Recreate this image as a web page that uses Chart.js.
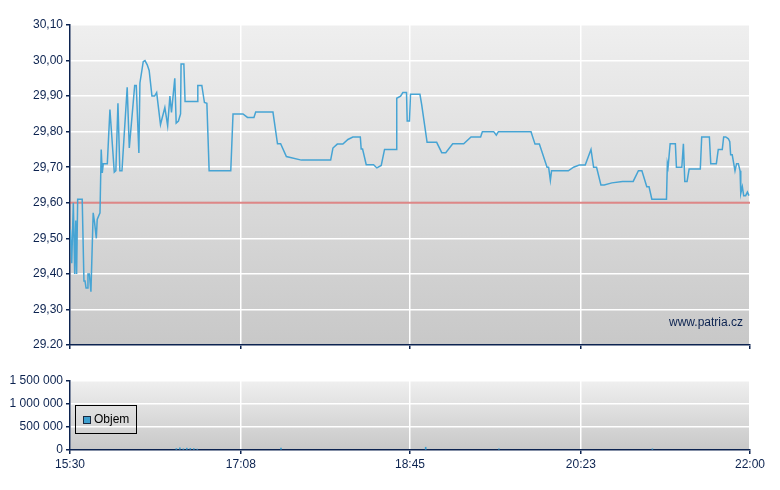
<!DOCTYPE html>
<html>
<head>
<meta charset="utf-8">
<script src="https://cdn.jsdelivr.net/npm/chart.js@4.4.0/dist/chart.umd.min.js"></script>
<style>
  html, body { margin: 0; padding: 0; background: #ffffff; }
  #wrap { position: relative; width: 780px; height: 490px; }
  #c1 { position: absolute; left: 0; top: 0; }
  #c2 { position: absolute; left: 0; top: 362px; }
</style>
</head>
<body>
<div id="wrap">
  <canvas id="c1" width="780" height="362"></canvas>
  <canvas id="c2" width="780" height="128"></canvas>
</div>
<script>
// ---- Data (minutes after 15:30) ----
const timeTickValues = [0, 98, 195, 293, 390];
const timeTickLabels = ['15:30', '17:08', '18:45', '20:23', '22:00'];

const priceTickValues = [29.2, 29.3, 29.4, 29.5, 29.6, 29.7, 29.8, 29.9, 30.0, 30.1];
const priceTickLabels = ['29.20', '29,30', '29,40', '29,50', '29,60', '29,70', '29,80', '29,90', '30,00', '30,10'];

const volumeTickValues = [0, 500000, 1000000, 1500000];
const volumeTickLabels = ['0', '500 000', '1 000 000', '1 500 000'];

const previousClose = 29.60;

const priceTimes = [
  0.2, 1.0, 1.9, 2.7, 3.3, 3.8, 4.4, 7.0, 8.0, 8.6, 9.2, 9.9, 10.3, 11.1, 12.0,
  13.3, 14.1, 15.1, 15.6, 17.2, 17.9, 18.5, 19.1, 21.4, 22.9, 25.4, 26.3, 27.5, 28.6, 29.8,
  32.8, 34.0, 37.1, 38.0, 39.5, 40.1, 42.0, 43.0, 44.3, 45.4, 47.0, 48.5, 49.7, 51.9, 54.4,
  56.0, 57.3, 58.2, 60.1, 60.9, 62.2, 63.4, 63.7, 65.3, 66.0, 72.9, 73.3, 75.6, 77.1, 78.5,
  79.8, 92.2, 93.5, 99.2, 101.8, 105.5, 106.5, 116.4, 119.0, 120.8, 124.1, 132.7, 149.5, 150.8, 153.3,
  156.5, 159.4, 162.2, 166.5, 167.0, 167.8, 169.9, 174.1, 176.0, 178.5, 180.4, 187.1, 187.4, 189.6, 190.9,
  193.0, 193.4, 194.7, 195.3, 200.7, 201.7, 204.8, 210.3, 213.2, 215.5, 219.5, 225.8, 230.0, 235.5, 236.5,
  243.0, 244.5, 245.7, 264.4, 266.7, 269.2, 273.6, 274.5, 275.5, 276.2, 285.8, 288.8, 292.1, 295.5, 298.8,
  300.3, 302.0, 304.5, 306.4, 310.8, 316.9, 323.0, 326.0, 328.0, 330.8, 332.1, 333.7, 342.1, 342.6, 343.0,
  344.2, 347.2, 347.8, 350.9, 351.8, 352.6, 353.9, 355.1, 361.5, 362.3, 366.7, 367.5, 370.7, 371.8, 374.1,
  374.9, 376.1, 377.6, 378.4, 378.9, 379.8, 381.4, 382.3, 383.3, 384.3, 384.7, 385.6, 386.4, 387.5, 388.5,
  389.4
];
const priceValues = [
  29.525, 29.43, 29.60, 29.40, 29.55, 29.40, 29.61, 29.61, 29.38, 29.38, 29.36, 29.36, 29.40, 29.40, 29.35,
  29.572, 29.544, 29.50, 29.553, 29.572, 29.75, 29.684, 29.71, 29.71, 29.862, 29.686, 29.69, 29.88, 29.69, 29.69,
  29.925, 29.754, 29.93, 29.93, 29.74, 29.937, 29.997, 30.00, 29.988, 29.972, 29.90, 29.90, 29.91, 29.82, 29.868,
  29.817, 29.90, 29.854, 29.95, 29.824, 29.83, 29.85, 29.99, 29.99, 29.885, 29.885, 29.93, 29.93, 29.882, 29.88,
  29.69, 29.69, 29.85, 29.85, 29.84, 29.84, 29.855, 29.855, 29.766, 29.766, 29.73, 29.72, 29.72, 29.754, 29.765,
  29.765, 29.778, 29.785, 29.785, 29.751, 29.751, 29.707, 29.707, 29.698, 29.705, 29.75, 29.75, 29.894, 29.90, 29.91,
  29.91, 29.83, 29.83, 29.905, 29.905, 29.876, 29.77, 29.77, 29.741, 29.741, 29.766, 29.766, 29.785, 29.785, 29.80,
  29.80, 29.79, 29.80, 29.80, 29.765, 29.765, 29.70, 29.70, 29.663, 29.69, 29.69, 29.70, 29.706, 29.706, 29.75,
  29.70, 29.70, 29.65, 29.65, 29.656, 29.66, 29.66, 29.69, 29.69, 29.645, 29.645, 29.61, 29.61, 29.71, 29.70,
  29.766, 29.766, 29.70, 29.70, 29.766, 29.66, 29.66, 29.695, 29.695, 29.785, 29.785, 29.71, 29.71, 29.75, 29.75,
  29.785, 29.785, 29.78, 29.772, 29.735, 29.735, 29.69, 29.71, 29.71, 29.69, 29.626, 29.645, 29.62, 29.62, 29.63,
  29.62
];

const volumeTimes = [61, 63, 65, 67, 69, 71, 73, 121, 204, 246, 334];
const volumeValues = [30000, 45000, 25000, 40000, 35000, 30000, 20000, 40000, 60000, 25000, 25000];

// ---- Styling ----
const NAVY = '#0c2350';
const FONT = "Arial, 'Liberation Sans', sans-serif";
Chart.defaults.font.family = FONT;
Chart.defaults.font.size = 12;
Chart.defaults.color = NAVY;
Chart.defaults.animation = false;

const bgPlugin = {
  id: 'bgGradient',
  beforeDraw(chart) {
    const { ctx, chartArea: a } = chart;
    const g = ctx.createLinearGradient(0, a.top, 0, a.bottom);
    g.addColorStop(0, '#efefef');
    g.addColorStop(1, '#c8c8c8');
    ctx.save();
    ctx.fillStyle = g;
    ctx.fillRect(a.left, a.top, a.right - a.left, a.bottom - a.top);
    ctx.restore();
  }
};

const watermarkPlugin = {
  id: 'watermark',
  afterDatasetsDraw(chart) {
    const { ctx, chartArea: a } = chart;
    ctx.save();
    ctx.font = '12px ' + FONT;
    ctx.fillStyle = NAVY;
    ctx.textAlign = 'right';
    ctx.textBaseline = 'middle';
    ctx.fillText('www.patria.cz', a.right - 7, a.bottom - 22);
    ctx.restore();
  }
};

const legendPlugin = {
  id: 'boxLegend',
  afterDraw(chart) {
    const { ctx, chartArea: a } = chart;
    const ds = chart.data.datasets[0];
    const x = a.left + 5, y = a.top + 24, w = 61, h = 28;
    ctx.save();
    ctx.strokeStyle = '#000000';
    ctx.lineWidth = 1;
    ctx.strokeRect(x + 0.5, y + 0.5, w, h);
    ctx.fillStyle = '#3ea0d0';
    ctx.fillRect(x + 8.5, y + 11.5, 7, 7);
    ctx.strokeStyle = '#1a2a40';
    ctx.strokeRect(x + 8.5, y + 11.5, 7, 7);
    ctx.font = '12px ' + FONT;
    ctx.fillStyle = '#000000';
    ctx.textAlign = 'left';
    ctx.textBaseline = 'middle';
    ctx.fillText(ds.label, x + 19, y + 15);
    ctx.restore();
  }
};

function xScale(showLabels, height) {
  return {
    type: 'linear',
    min: 0,
    max: 390,
    offset: false,
    afterBuildTicks(s) { s.ticks = timeTickValues.map(v => ({ value: v })); },
    afterFit(s) { s.height = height; },
    ticks: {
      display: showLabels,
      autoSkip: false,
      maxRotation: 0,
      padding: 3,
      callback: (v) => timeTickLabels[timeTickValues.indexOf(v)]
    },
    grid: { offset: false, color: '#ffffff', lineWidth: 1.5, tickColor: NAVY, tickLength: 4, drawTicks: true },
    border: { color: NAVY, width: 1.5 }
  };
}

function yScale(values, labels, min, max) {
  return {
    type: 'linear',
    min: min,
    max: max,
    afterBuildTicks(s) { s.ticks = values.map(v => ({ value: v })); },
    afterFit(s) { s.width = 70; },
    ticks: {
      autoSkip: false,
      padding: 3,
      callback: (v) => {
        const i = values.findIndex(t => Math.abs(t - v) < 1e-6);
        return i >= 0 ? labels[i] : '';
      }
    },
    grid: { color: '#ffffff', lineWidth: 1.5, tickColor: NAVY, tickLength: 4 },
    border: { color: NAVY, width: 1.5 }
  };
}

new Chart(document.getElementById('c1'), {
  type: 'line',
  data: {
    datasets: [
      {
        label: 'Cena',
        data: priceTimes.map((t, i) => ({ x: t, y: priceValues[i] })),
        borderColor: '#46a4d4',
        borderWidth: 1.5,
        pointRadius: 0,
        tension: 0,
        fill: false,
        order: 1
      },
      {
        label: 'Předchozí závěr',
        data: [{ x: 0, y: previousClose }, { x: 390, y: previousClose }],
        borderColor: 'rgba(205, 70, 70, 0.65)',
        borderWidth: 2,
        pointRadius: 0,
        fill: false,
        order: 2
      }
    ]
  },
  options: {
    responsive: false,
    devicePixelRatio: 1,
    layout: { padding: { left: 0, right: 30, top: 25, bottom: 0 } },
    plugins: { legend: { display: false }, tooltip: { enabled: false } },
    scales: {
      x: xScale(false, 17),
      y: yScale(priceTickValues, priceTickLabels, 29.2, 30.1)
    }
  },
  plugins: [bgPlugin, watermarkPlugin]
});

new Chart(document.getElementById('c2'), {
  type: 'bar',
  data: {
    datasets: [{
      label: 'Objem',
      data: volumeTimes.map((t, i) => ({ x: t, y: volumeValues[i] })),
      backgroundColor: '#3ea0d0',
      barThickness: 1,
      borderWidth: 0
    }]
  },
  options: {
    responsive: false,
    devicePixelRatio: 1,
    layout: { padding: { left: 0, right: 30, top: 19, bottom: 0 } },
    plugins: { legend: { display: false }, tooltip: { enabled: false } },
    scales: {
      x: xScale(true, 40),
      y: yScale(volumeTickValues, volumeTickLabels, 0, 1500000)
    }
  },
  plugins: [bgPlugin, legendPlugin]
});
</script>
</body>
</html>
